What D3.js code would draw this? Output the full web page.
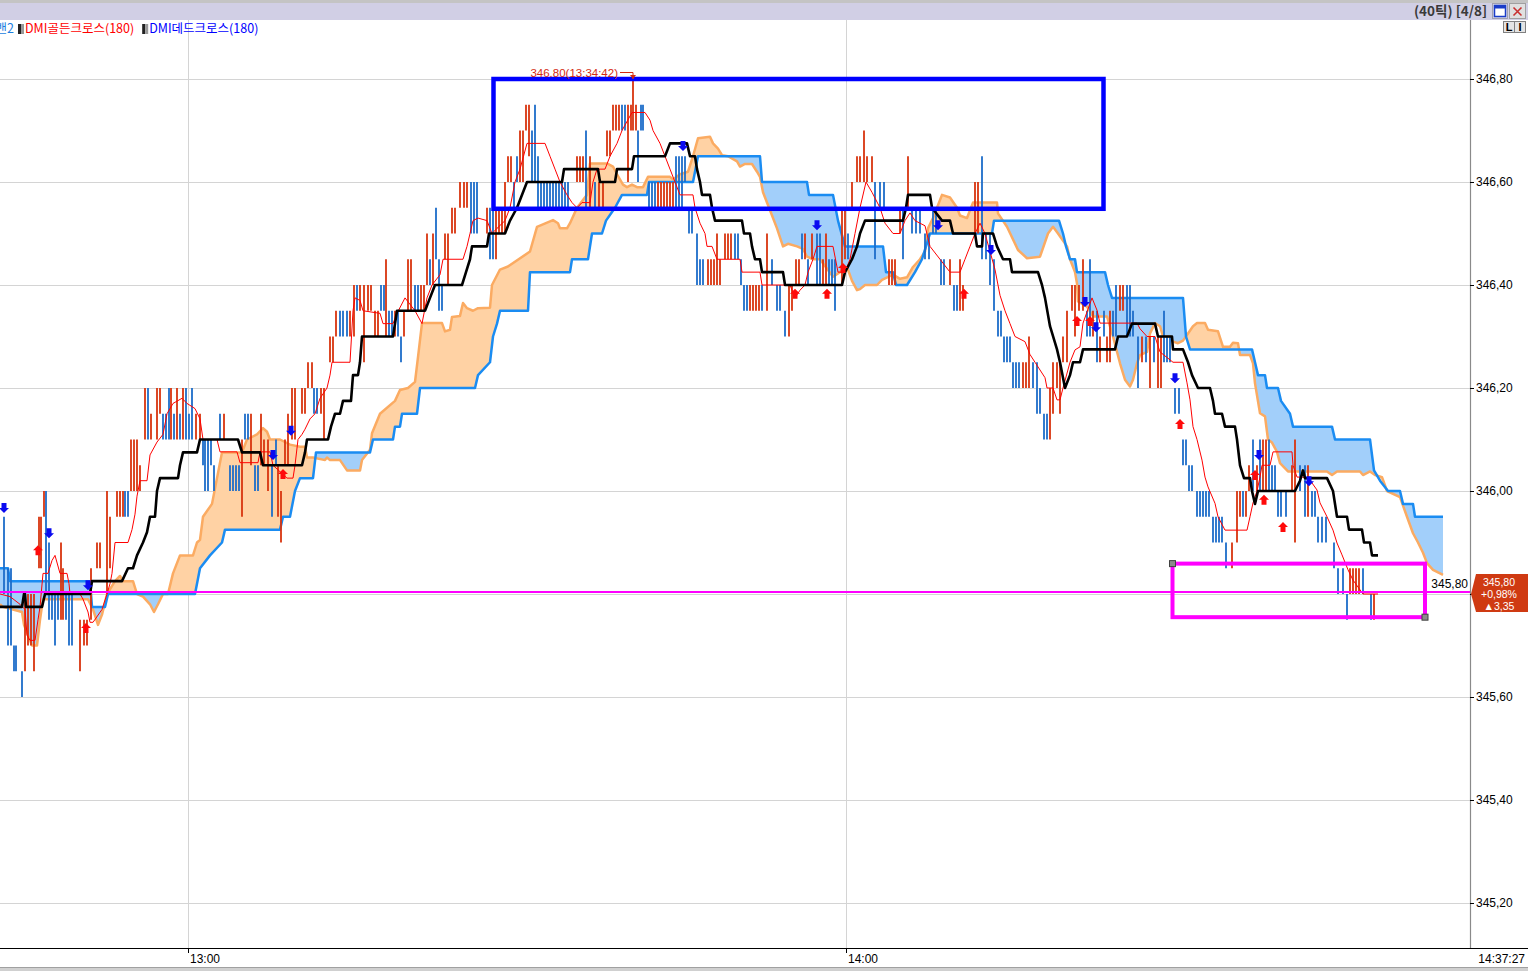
<!DOCTYPE html>
<html><head><meta charset="utf-8">
<script src="https://cdn.jsdelivr.net/npm/d3@7"></script>
<style>
html,body{margin:0;padding:0;background:#fff;overflow:hidden;}
svg{display:block;}
</style></head><body>
<svg id="c" width="1528" height="971"></svg>
<script>
// ===== DATA =====
const priceTicks=[346.80,346.60,346.40,346.20,346.00,345.80,345.60,345.40,345.20];
const timeTickIdx=[37.6,169.2];
const timeTickLabels=["13:00","14:00"];
const lastTimeLabel="14:37:27";
const headerLabel="(40틱) [4/8]";
const legendItems=[["DMI골든크로스(180)","#ff0000"],["DMI데드크로스(180)","#0000ff"]];
const lastPrice=345.80, changePct=0.98, changeAbs=3.35;
const markLine=345.804;
const highNote={i:126.6,p:346.80,label:"346.80(13:34:42)"};
const blueBox={i0:98.7,i1:220.7,p0:346.80,p1:346.548};
const pinkBox={i0:234.5,i1:285.0,p0:345.859,p1:345.755};

// leading span B (blue edge)
const spanB=[[0,345.85],[1.6,345.85],[2,345.825],[18,345.825],[18.4,345.775],[21,345.775],[21.6,345.80],[39,345.80],[40,345.85],[42,345.875],[44.4,345.90],[45,345.925],[56,345.925],[56.6,345.95],[58,345.95],[59,346.0],[60,346.025],[62.6,346.025],[63.2,346.075],[74,346.075],[74.6,346.10],[78.6,346.10],[79,346.125],[80,346.125],[80.4,346.15],[83.4,346.15],[84,346.20],[95,346.20],[95.6,346.225],[98,346.25],[98.6,346.30],[99.4,346.325],[100,346.35],[105.6,346.35],[106,346.425],[114,346.425],[114.4,346.45],[117.6,346.45],[118.4,346.50],[120.4,346.50],[121.2,346.525],[123,346.55],[124.4,346.575],[129.4,346.575],[129.8,346.60],[138.6,346.60],[139.6,346.65],[152,346.65],[152.4,346.60],[161.4,346.60],[161.8,346.575],[166.6,346.575],[167.6,346.525],[169,346.475],[176.6,346.475],[177.2,346.425],[178.6,346.425],[179.2,346.40],[181.4,346.40],[183,346.425],[184.4,346.45],[185.2,346.475],[186,346.50],[198.4,346.50],[198.8,346.525],[211.8,346.525],[212.6,346.50],[213.2,346.475],[214,346.45],[215,346.45],[215.4,346.425],[221,346.425],[221.6,346.40],[222.4,346.375],[236.6,346.375],[237.2,346.30],[238,346.275],[250.4,346.275],[251,346.25],[251.6,346.225],[253,346.225],[253.4,346.20],[255.6,346.20],[256.2,346.175],[258,346.15],[258.6,346.125],[266.4,346.125],[267,346.10],[274,346.10],[274.8,346.04],[276,346.02],[277.6,346.0],[280,346.0],[280.6,345.975],[282.6,345.975],[283,345.95],[288.6,345.95]];

// leading span A (orange edge)
const spanA=[[0,345.78],[0.6,345.775],[4.4,345.765],[4.8,345.74],[6,345.71],[6.4,345.70],[7.4,345.70],[8,345.75],[8.6,345.79],[17.6,345.79],[18.6,345.77],[19.6,345.74],[20.4,345.76],[21.4,345.80],[23,345.825],[24,345.835],[24.6,345.825],[26.6,345.825],[27.4,345.80],[28.6,345.795],[30,345.78],[30.8,345.765],[31.6,345.78],[32.6,345.80],[33.6,345.80],[34.6,345.84],[36,345.875],[38.6,345.875],[39.4,345.90],[40,345.905],[40.6,345.95],[42.4,345.975],[43.4,346.025],[44.4,346.075],[48.4,346.075],[49.4,346.10],[51.4,346.11],[52.6,346.122],[53.4,346.115],[54,346.10],[56,346.10],[58,346.09],[60,346.086],[61,346.086],[61.4,346.065],[62.6,346.065],[65,346.06],[65.4,346.065],[66,346.06],[68,346.06],[69.4,346.04],[72,346.04],[72.4,346.06],[74,346.08],[74.4,346.112],[76,346.15],[79,346.175],[80,346.196],[81.6,346.20],[83,346.212],[83.6,346.26],[84.4,346.326],[88.4,346.326],[89,346.31],[90,346.313],[90.4,346.338],[92,346.34],[92.6,346.365],[93.4,346.355],[94.6,346.35],[95.6,346.355],[98,346.356],[98.4,346.40],[100,346.43],[101.6,346.436],[106,346.465],[107.4,346.513],[110.6,346.526],[111.6,346.52],[112,346.51],[113.4,346.51],[114,346.52],[115.4,346.55],[117.4,346.575],[118,346.636],[121.4,346.636],[122.6,346.63],[123.4,346.615],[124.6,346.595],[125.4,346.59],[126.4,346.595],[127.4,346.59],[128.6,346.59],[129.6,346.61],[134,346.61],[134.6,346.605],[136,346.615],[137.6,346.62],[138.6,346.65],[139.6,346.685],[142,346.688],[142.6,346.675],[143.6,346.665],[144.4,346.652],[145.6,346.65],[147.4,346.64],[148,346.63],[149,346.635],[150.4,346.635],[151.4,346.62],[152,346.61],[152.6,346.58],[154,346.545],[155.4,346.51],[156.6,346.475],[157.6,346.48],[159.4,346.475],[160.6,346.47],[161.4,346.455],[162.6,346.45],[164,346.45],[166.6,346.416],[168,346.425],[169.4,346.435],[170.4,346.408],[171.4,346.39],[172,346.392],[173,346.40],[175.4,346.40],[176.4,346.41],[178.6,346.42],[180,346.412],[181.4,346.415],[182.6,346.435],[184,346.45],[185,346.465],[185.6,346.51],[186.6,346.53],[188.4,346.575],[190,346.57],[191.4,346.55],[192,346.535],[193.4,346.53],[194.6,346.56],[199.4,346.56],[199.6,346.539],[201.4,346.513],[203.6,346.468],[205.4,346.452],[208,346.455],[209.6,346.50],[210.6,346.513],[211.6,346.50],[213.4,346.475],[214,346.45],[215,346.425],[215.4,346.403],[215.6,346.368],[217.4,346.358],[218.6,346.339],[221.4,346.339],[222.6,346.30],[224,346.248],[225,346.216],[226,346.203],[226.6,346.216],[227.4,346.248],[228,346.264],[229.4,346.27],[230,346.306],[231,346.326],[232,346.32],[232.6,346.30],[234,346.30],[234.6,346.29],[235.6,346.287],[236.6,346.292],[237.4,346.303],[238.6,346.32],[239.4,346.326],[241,346.326],[241.6,346.313],[243.6,346.31],[244.6,346.28],[246,346.28],[246.6,346.288],[247.6,346.287],[248,346.264],[250,346.264],[250.6,346.248],[251,346.209],[252,346.151],[253,346.145],[253.6,346.10],[254.4,346.094],[255.4,346.076],[256,346.054],[257.6,346.038],[265.4,346.038],[266.4,346.031],[267.4,346.038],[272,346.038],[272.6,346.031],[274,346.038],[275,346.031],[276.4,346.027],[277.4,346.0],[280,345.988],[281.4,345.95],[282.6,345.918],[283.6,345.90],[284.6,345.88],[285.4,345.86],[286.6,345.847],[288.6,345.837]];

// base line (black)
const baseLine=[[0,345.775],[4.4,345.775],[4.8,345.80],[5,345.80],[5.2,345.775],[8.4,345.775],[9,345.80],[18,345.80],[18.4,345.825],[24.4,345.825],[25.6,345.85],[26.6,345.85],[27.4,345.875],[28.6,345.90],[29.4,345.92],[30,345.95],[31,345.95],[31.4,346.0],[32,346.025],[35.6,346.025],[36,346.05],[36.6,346.075],[39.4,346.075],[40,346.10],[47.6,346.10],[48.4,346.075],[52,346.075],[52.6,346.05],[60.4,346.05],[61,346.075],[61.4,346.10],[65.6,346.10],[66.2,346.125],[67,346.15],[68,346.15],[68.6,346.175],[70.2,346.175],[70.6,346.225],[71.6,346.225],[72,346.25],[72.4,346.30],[78.6,346.30],[79.4,346.35],[85,346.35],[86,346.375],[87,346.40],[92.4,346.40],[93.2,346.425],[94,346.45],[94.4,346.475],[97.4,346.475],[97.8,346.50],[101,346.50],[102,346.525],[103.4,346.55],[105.4,346.60],[112.4,346.60],[112.8,346.625],[119.6,346.625],[120,346.60],[123,346.60],[123.4,346.625],[126.4,346.625],[126.8,346.65],[133,346.65],[134,346.675],[137.4,346.675],[138,346.65],[139,346.65],[139.4,346.625],[140,346.60],[140.4,346.575],[142,346.575],[142.4,346.55],[143,346.525],[148.4,346.525],[148.8,346.50],[150,346.50],[150.4,346.475],[151,346.45],[152,346.45],[152.4,346.425],[156.6,346.425],[157,346.40],[168.4,346.40],[169,346.425],[170.4,346.45],[171.4,346.475],[172,346.50],[173,346.525],[180.6,346.525],[181.2,346.55],[181.6,346.575],[186,346.575],[186.4,346.55],[188.4,346.525],[190,346.525],[190.6,346.50],[195,346.50],[195.4,346.475],[196.4,346.475],[196.6,346.50],[198.6,346.50],[199.4,346.475],[200.6,346.45],[202,346.45],[202.4,346.425],[207.6,346.425],[208.4,346.40],[209,346.375],[210,346.32],[211.4,346.275],[212,346.25],[213,346.20],[214,346.225],[214.6,346.25],[216,346.25],[216.6,346.275],[223,346.275],[223.6,346.30],[225.4,346.30],[226.4,346.325],[231,346.325],[231.6,346.30],[234.4,346.30],[234.6,346.275],[236.6,346.275],[237.6,346.25],[238.4,346.225],[239.6,346.20],[242,346.20],[242.6,346.175],[243,346.15],[244.4,346.15],[245,346.125],[247,346.125],[247.4,346.10],[248,346.05],[248.8,346.025],[250,346.025],[250.4,346.0],[251,345.975],[251.6,346.0],[252.4,346.0],[259,346.0],[260,346.02],[260.6,346.04],[261,346.025],[265.4,346.025],[266.6,346.0],[267.4,345.95],[269.4,345.95],[269.8,345.925],[272.4,345.925],[272.8,345.90],[274,345.90],[274.4,345.875],[275.6,345.875]];

// conversion line (thin red)
const convLine=[[0,345.80],[2,345.795],[4,345.78],[5,345.77],[5.4,345.72],[6,345.71],[7,345.71],[7.6,345.75],[8,345.775],[8.6,345.84],[9.6,345.84],[10.4,345.865],[11,345.875],[12,345.84],[13.4,345.84],[13.8,345.82],[14,345.80],[16,345.80],[16.6,345.79],[17.6,345.765],[18,345.745],[18.6,345.745],[20.4,345.77],[21.4,345.80],[22,345.82],[22.4,345.84],[23,345.90],[25.6,345.90],[26.4,345.925],[27,345.955],[27.4,345.99],[28,346.02],[29.4,346.02],[30,346.07],[31.4,346.095],[32.6,346.11],[33.4,346.15],[34.6,346.17],[36.4,346.18],[37.4,346.17],[39,346.16],[40,346.14],[40.6,346.10],[43.4,346.10],[44,346.076],[47.4,346.076],[48,346.055],[51.6,346.055],[52,346.076],[54,346.076],[54.6,346.05],[57.4,346.025],[58.6,346.025],[59,346.05],[59.6,346.10],[60.4,346.11],[61,346.12],[62,346.14],[63,346.15],[64,346.18],[65.4,346.20],[66,346.225],[66.4,346.25],[70,346.25],[70.6,346.35],[71,346.375],[72,346.37],[72.6,346.35],[76,346.345],[76.6,346.325],[78.6,346.325],[79.4,346.345],[81,346.375],[83,346.35],[84.4,346.325],[85.4,346.375],[86.4,346.40],[88,346.42],[88.6,346.45],[92.6,346.45],[93.4,346.475],[94,346.50],[94.6,346.525],[95.6,346.53],[97.4,346.525],[98.4,346.50],[99.4,346.51],[101,346.525],[102,346.55],[103,346.60],[104,346.625],[105.4,346.675],[109,346.675],[110,346.65],[111,346.625],[112,346.60],[113.4,346.575],[114.4,346.56],[115.4,346.55],[116.4,346.56],[118,346.56],[118.6,346.60],[119.4,346.625],[121,346.625],[122,346.65],[123.4,346.675],[124.4,346.70],[126.4,346.735],[129,346.735],[130,346.72],[130.6,346.70],[132,346.675],[133,346.65],[134,346.625],[135,346.60],[136,346.575],[138.6,346.575],[139,346.55],[140,346.52],[141,346.50],[141.4,346.475],[142.4,346.475],[143.4,346.45],[148,346.45],[148.4,346.425],[152,346.425],[152.4,346.40],[158,346.40],[159,346.375],[160,346.39],[161,346.40],[161.6,346.425],[162.6,346.45],[163.4,346.475],[166.6,346.475],[167.6,346.425],[169,346.425],[170,346.45],[171,346.50],[172,346.55],[173.2,346.60],[174.4,346.58],[176,346.55],[177,346.52],[178.6,346.50],[180,346.50],[181,346.525],[182,346.54],[183,346.525],[185,346.515],[186,346.475],[188,346.45],[190,346.425],[192,346.425],[193,346.45],[194,346.475],[195,346.50],[196,346.52],[197,346.50],[198,346.465],[199,346.43],[200,346.38],[201,346.35],[202,346.325],[203,346.30],[205,346.29],[206,346.265],[207,346.25],[208,346.235],[209,346.22],[209.4,346.20],[210.6,346.20],[211.4,346.177],[212,346.177],[212.6,346.20],[214,346.25],[215,346.274],[216,346.28],[216.6,346.326],[218.4,346.375],[219.4,346.351],[220,346.326],[227.4,346.326],[228,346.315],[229.4,346.30],[231,346.30],[232,346.27],[234.6,346.25],[236.6,346.25],[237.4,346.21],[238,346.177],[238.6,346.125],[239.4,346.10],[240.4,346.06],[241,346.027],[241.6,346.008],[243,345.976],[243.6,345.95],[245,345.924],[249.4,345.924],[250,345.95],[250.6,345.977],[251.4,346.0],[252,346.027],[252.4,346.05],[254,346.05],[254.6,346.076],[258.4,346.076],[258.6,346.05],[259.4,346.027],[260.6,346.027],[262,346.021],[263.4,346.002],[264,345.977],[265.4,345.95],[266.6,345.924],[267.4,345.899],[268.4,345.876],[269.6,345.847],[270.6,345.827],[272.6,345.80],[275.6,345.80]];

// tick bars: [position, low, high, up(1)/down(0)]
const bars=[[0.8,345.80,345.95,0],[1.6,345.70,345.85,0],[2.2,345.70,345.85,0],[2.8,345.65,345.70,0],[3.2,345.65,345.70,0],[4.4,345.60,345.65,0],[5.0,345.65,345.80,1],[5.6,345.70,345.80,1],[6.2,345.70,345.80,1],[6.8,345.65,345.80,1],[7.8,345.85,345.95,1],[8.2,345.85,345.95,1],[8.8,345.95,346.00,1],[9.2,345.80,346.00,0],[9.8,345.75,345.90,0],[10.4,345.75,345.80,0],[11.0,345.70,345.80,0],[11.6,345.75,345.80,0],[12.2,345.75,345.90,1],[12.6,345.75,345.85,1],[13.2,345.75,345.80,0],[13.8,345.70,345.80,0],[14.4,345.70,345.80,0],[16.0,345.65,345.75,1],[16.8,345.70,345.75,1],[17.4,345.70,345.75,1],[18.2,345.75,345.85,1],[19.4,345.85,345.90,1],[20.0,345.85,345.90,1],[21.4,345.80,346.00,1],[22.0,345.85,345.95,1],[23.4,345.95,346.00,1],[24.0,345.95,346.00,1],[24.6,345.95,346.00,1],[25.0,345.95,346.00,0],[25.6,345.95,346.00,0],[26.2,346.00,346.10,1],[26.8,346.00,346.10,1],[27.4,346.00,346.10,1],[28.0,346.00,346.05,1],[29.0,346.10,346.20,1],[29.6,346.10,346.20,0],[30.2,346.10,346.15,1],[31.4,346.10,346.20,1],[32.0,346.15,346.20,1],[32.6,346.10,346.15,0],[33.2,346.10,346.15,0],[33.8,346.10,346.20,0],[34.2,346.10,346.20,1],[34.8,346.10,346.15,0],[35.4,346.10,346.20,1],[36.0,346.10,346.15,0],[36.6,346.10,346.20,1],[37.2,346.10,346.20,0],[37.8,346.10,346.15,0],[38.4,346.10,346.20,0],[39.2,346.10,346.15,1],[40.0,346.10,346.15,1],[40.6,346.05,346.10,0],[41.0,346.00,346.10,0],[41.6,346.00,346.10,0],[42.2,346.05,346.10,0],[42.8,346.00,346.05,0],[44.0,346.10,346.15,0],[44.8,346.10,346.15,1],[46.0,346.00,346.05,0],[46.6,346.00,346.05,0],[47.2,346.00,346.05,0],[47.8,346.00,346.05,0],[48.4,345.95,346.10,1],[49.0,346.10,346.15,0],[49.6,346.10,346.15,0],[50.2,346.05,346.15,1],[51.0,346.00,346.05,0],[51.6,346.00,346.05,0],[52.2,346.05,346.15,1],[52.8,346.05,346.10,1],[53.6,346.00,346.10,1],[54.4,345.95,346.05,0],[55.2,346.05,346.10,0],[55.6,345.95,346.05,1],[56.2,345.90,346.00,1],[57.0,346.05,346.10,1],[57.6,346.05,346.15,1],[58.4,346.10,346.20,1],[59.0,346.10,346.20,1],[60.4,346.15,346.20,1],[61.0,346.15,346.20,1],[61.6,346.20,346.25,1],[62.4,346.20,346.25,1],[62.8,346.15,346.20,0],[63.4,346.15,346.20,0],[64.2,346.15,346.20,1],[64.8,346.10,346.20,1],[66.0,346.25,346.30,1],[66.6,346.25,346.30,1],[67.2,346.30,346.35,1],[68.0,346.30,346.35,0],[68.6,346.30,346.35,0],[69.4,346.30,346.35,0],[70.0,346.30,346.35,1],[70.8,346.30,346.40,1],[71.4,346.35,346.40,0],[72.0,346.35,346.40,1],[72.8,346.25,346.40,1],[73.6,346.35,346.40,1],[74.2,346.35,346.40,1],[75.0,346.30,346.35,1],[75.6,346.30,346.35,1],[76.2,346.35,346.40,0],[76.8,346.35,346.40,0],[77.2,346.30,346.45,1],[77.8,346.30,346.35,0],[78.4,346.30,346.35,0],[79.0,346.30,346.35,1],[79.6,346.30,346.35,0],[80.2,346.25,346.30,0],[80.8,346.30,346.35,1],[81.6,346.35,346.45,1],[82.2,346.35,346.45,1],[83.0,346.35,346.40,0],[83.6,346.35,346.40,0],[84.2,346.35,346.40,1],[84.8,346.35,346.40,1],[85.4,346.40,346.50,1],[86.0,346.40,346.45,0],[86.6,346.40,346.50,1],[87.2,346.45,346.55,0],[87.8,346.35,346.45,0],[88.4,346.35,346.40,0],[89.0,346.45,346.50,1],[89.6,346.40,346.50,1],[90.4,346.50,346.55,1],[91.0,346.50,346.55,1],[92.0,346.55,346.60,1],[92.8,346.55,346.60,1],[93.4,346.55,346.60,1],[94.2,346.50,346.60,0],[94.8,346.50,346.60,0],[95.4,346.50,346.60,0],[97.4,346.50,346.55,1],[98.0,346.45,346.55,0],[98.6,346.45,346.55,0],[99.2,346.45,346.55,1],[99.8,346.50,346.55,1],[100.4,346.50,346.55,1],[101.0,346.50,346.60,1],[101.6,346.60,346.65,1],[102.2,346.60,346.65,1],[102.8,346.55,346.60,0],[103.4,346.60,346.65,0],[104.0,346.60,346.70,1],[104.6,346.60,346.70,1],[105.2,346.70,346.75,1],[105.8,346.65,346.75,1],[106.4,346.60,346.70,0],[107.0,346.60,346.75,0],[107.6,346.55,346.65,0],[108.2,346.55,346.60,0],[108.8,346.55,346.60,0],[109.4,346.55,346.60,0],[110.0,346.55,346.60,0],[110.6,346.55,346.60,0],[111.2,346.55,346.60,0],[111.8,346.55,346.60,0],[112.4,346.55,346.60,0],[113.0,346.55,346.60,0],[113.6,346.55,346.60,0],[115.4,346.60,346.65,1],[116.0,346.60,346.65,1],[116.6,346.60,346.65,1],[117.2,346.55,346.70,0],[118.0,346.55,346.65,1],[119.0,346.55,346.60,0],[119.8,346.55,346.60,1],[120.6,346.55,346.60,1],[121.4,346.65,346.70,1],[122.0,346.65,346.70,1],[122.6,346.70,346.75,1],[123.2,346.70,346.75,1],[123.8,346.70,346.75,1],[124.4,346.70,346.75,0],[125.0,346.70,346.75,0],[125.6,346.60,346.75,1],[126.2,346.70,346.75,1],[126.6,346.70,346.80,1],[127.2,346.70,346.75,1],[127.6,346.60,346.70,0],[128.2,346.70,346.75,0],[128.6,346.70,346.75,0],[129.8,346.55,346.60,0],[130.4,346.55,346.60,0],[131.0,346.55,346.60,0],[131.6,346.55,346.60,1],[132.2,346.55,346.60,1],[132.8,346.55,346.60,1],[133.4,346.55,346.60,1],[134.0,346.55,346.60,1],[134.6,346.55,346.60,1],[135.2,346.55,346.65,0],[135.8,346.55,346.65,0],[136.4,346.55,346.65,0],[137.0,346.60,346.65,0],[137.8,346.50,346.55,0],[138.4,346.50,346.55,0],[139.4,346.40,346.50,0],[140.0,346.40,346.45,0],[140.6,346.40,346.45,0],[141.6,346.40,346.45,1],[142.2,346.40,346.45,1],[142.8,346.40,346.45,1],[143.4,346.40,346.50,1],[144.0,346.40,346.45,1],[145.0,346.45,346.50,1],[145.6,346.45,346.50,1],[146.2,346.45,346.50,1],[147.0,346.45,346.50,0],[147.6,346.45,346.50,0],[148.2,346.40,346.45,0],[148.8,346.35,346.40,0],[149.4,346.35,346.40,0],[150.0,346.35,346.40,1],[150.6,346.35,346.40,1],[151.2,346.35,346.40,1],[151.8,346.35,346.40,1],[152.4,346.35,346.40,0],[153.4,346.35,346.50,1],[154.4,346.40,346.45,0],[155.4,346.35,346.40,0],[156.0,346.35,346.40,0],[157.0,346.30,346.35,0],[157.8,346.30,346.40,1],[158.4,346.35,346.40,1],[159.2,346.40,346.45,1],[159.8,346.40,346.45,1],[160.4,346.45,346.50,0],[161.0,346.45,346.50,1],[161.6,346.40,346.45,0],[162.4,346.45,346.50,1],[163.4,346.40,346.50,0],[164.0,346.40,346.50,0],[164.6,346.40,346.45,1],[165.2,346.40,346.50,1],[165.8,346.40,346.45,0],[166.4,346.40,346.45,0],[167.0,346.35,346.45,0],[168.4,346.40,346.55,1],[169.0,346.45,346.55,1],[169.6,346.45,346.50,0],[170.4,346.55,346.60,1],[171.4,346.60,346.65,1],[172.0,346.60,346.65,1],[172.8,346.60,346.70,1],[173.4,346.60,346.65,1],[174.4,346.60,346.65,1],[175.0,346.45,346.60,0],[176.0,346.55,346.60,0],[176.8,346.55,346.60,0],[177.8,346.40,346.45,1],[178.4,346.40,346.45,1],[179.0,346.40,346.45,1],[180.0,346.50,346.55,1],[180.6,346.45,346.55,0],[181.6,346.55,346.65,1],[182.4,346.50,346.55,0],[183.2,346.50,346.55,0],[184.0,346.50,346.55,0],[185.0,346.45,346.50,0],[185.8,346.45,346.50,0],[186.6,346.50,346.55,0],[187.2,346.50,346.55,0],[188.2,346.40,346.45,0],[188.8,346.40,346.45,0],[190.0,346.40,346.45,1],[190.8,346.35,346.40,0],[191.4,346.35,346.40,0],[192.0,346.35,346.45,1],[192.6,346.35,346.40,1],[195.0,346.50,346.60,1],[195.6,346.50,346.60,1],[196.4,346.45,346.65,0],[197.2,346.45,346.50,0],[198.0,346.40,346.50,0],[198.8,346.35,346.45,0],[199.6,346.30,346.35,0],[200.2,346.30,346.35,0],[200.8,346.25,346.30,0],[201.4,346.25,346.30,0],[202.0,346.25,346.30,0],[202.6,346.20,346.25,0],[203.2,346.20,346.25,0],[203.8,346.20,346.25,0],[204.6,346.20,346.25,1],[205.2,346.20,346.25,1],[205.8,346.20,346.30,1],[206.6,346.20,346.25,0],[207.4,346.15,346.25,0],[208.0,346.15,346.20,0],[208.8,346.10,346.15,0],[209.4,346.10,346.15,0],[210.0,346.10,346.20,1],[210.6,346.15,346.25,1],[211.4,346.20,346.25,1],[212.0,346.15,346.25,1],[212.6,346.25,346.30,1],[213.4,346.25,346.35,1],[214.4,346.35,346.40,1],[215.0,346.30,346.40,1],[215.8,346.35,346.40,1],[216.6,346.35,346.45,1],[217.4,346.30,346.35,0],[218.0,346.30,346.45,0],[218.6,346.30,346.35,1],[219.4,346.25,346.35,0],[220.0,346.25,346.30,1],[220.8,346.30,346.35,0],[221.4,346.25,346.30,1],[222.0,346.25,346.35,1],[222.6,346.30,346.35,0],[223.2,346.30,346.40,0],[224.0,346.35,346.40,1],[224.6,346.35,346.40,1],[225.4,346.30,346.40,0],[226.0,346.30,346.40,0],[226.6,346.30,346.35,0],[227.6,346.20,346.30,0],[228.4,346.25,346.30,1],[229.2,346.25,346.30,0],[230.0,346.20,346.30,1],[230.8,346.25,346.30,0],[231.6,346.20,346.30,1],[232.2,346.20,346.30,1],[232.8,346.25,346.35,0],[233.4,346.25,346.30,0],[234.0,346.25,346.30,0],[235.0,346.15,346.20,0],[235.8,346.15,346.20,0],[236.6,346.05,346.10,0],[237.2,346.05,346.10,0],[237.8,346.00,346.05,0],[238.4,346.00,346.05,0],[239.4,345.95,346.00,0],[240.0,345.95,346.00,0],[240.6,345.95,346.00,0],[241.2,345.95,346.00,0],[241.8,345.95,346.00,0],[242.6,345.90,345.95,0],[243.2,345.90,345.95,0],[243.8,345.90,345.95,0],[244.4,345.90,345.95,0],[245.2,345.85,345.90,0],[246.4,345.85,345.90,1],[247.4,345.90,346.00,1],[248.0,345.95,346.00,1],[248.6,345.95,346.00,0],[249.2,345.95,346.00,1],[249.8,346.00,346.05,1],[250.6,346.00,346.10,0],[251.4,346.00,346.05,1],[252.0,346.00,346.10,0],[252.6,346.00,346.10,1],[253.2,346.00,346.10,1],[253.8,346.00,346.10,0],[254.4,346.00,346.05,0],[255.0,346.00,346.05,0],[255.6,345.95,346.00,0],[256.2,345.95,346.00,0],[257.2,345.95,346.00,0],[258.4,346.00,346.05,1],[259.0,345.90,346.10,1],[260.0,346.00,346.05,0],[261.0,345.95,346.05,0],[261.6,345.95,346.05,1],[262.4,345.95,346.00,0],[263.0,345.95,346.00,0],[263.6,345.90,345.95,0],[264.4,345.90,345.95,0],[265.2,345.90,345.95,0],[266.8,345.85,345.90,0],[267.6,345.80,345.85,0],[268.6,345.80,345.85,0],[269.4,345.75,345.80,0],[270.0,345.80,345.85,1],[270.6,345.80,345.85,1],[271.2,345.80,345.85,1],[271.8,345.80,345.85,1],[272.6,345.80,345.85,0],[274.2,345.75,345.80,0],[274.8,345.75,345.80,1]];

// DMI signals
const deadCross=[[0.8,345.967],[9.8,345.918],[17.6,345.817],[54.6,346.07],[58.2,346.117],[136.6,346.67],[163.4,346.516],[187.6,346.516],[198.2,346.468],[217,346.367],[219.2,346.318],[235,346.219],[251.8,346.07],[261.8,346.019]];
const goldenCross=[[7.6,345.885],[17.2,345.734],[56.6,346.033],[159,346.383],[165.4,346.383],[168.6,346.433],[192.8,346.383],[215.4,346.33],[218,346.33],[236,346.13],[251,346.031],[252.8,345.983],[256.6,345.93]];

// ===== DRAW =====
const W=1528,H=971;
const PL=0,PR=1470,PT=20,PB=948;
const x=d3.scaleLinear().domain([0,294]).range([PL,PR]);
const y=d3.scaleLinear().domain([345.20,346.80]).range([903,79]);
const svg=d3.select("#c");
const FONT="'Liberation Sans',Arial,sans-serif";
const KFONT="'Noto Sans CJK KR','Noto Sans',sans-serif";
const fmt=v=>d3.format(".2f")(v).replace(".",",");

svg.append("rect").attr("width",W).attr("height",H).attr("fill","#fff");
// title bar
svg.append("rect").attr("x",0).attr("y",0).attr("width",W).attr("height",3).attr("fill","#c4c4c4");
svg.append("rect").attr("x",0).attr("y",3).attr("width",W).attr("height",17).attr("fill","#d1cfe5");
svg.append("text").attr("x",1487).attr("y",16).attr("text-anchor","end").attr("font-family",KFONT).attr("font-weight","bold").attr("font-size",13.5).attr("fill","#3a3a3a").text(headerLabel);
// buttons
const b1=svg.append("g");
b1.append("rect").attr("x",1492.5).attr("y",3.5).attr("width",15).attr("height",15).attr("fill","#d8d8e8").attr("stroke","#a0a0b0");
b1.append("rect").attr("x",1494.5).attr("y",5.5).attr("width",11).attr("height",11).attr("fill","#fff").attr("stroke","#1a3cc8").attr("stroke-width",1.5);
b1.append("rect").attr("x",1494.5).attr("y",5.5).attr("width",11).attr("height",3).attr("fill","#1a3cc8");
const b2=svg.append("g");
b2.append("rect").attr("x",1509.5).attr("y",3.5).attr("width",16).attr("height",15).attr("fill","#e0e0e0").attr("stroke","#a0a0a0");
b2.append("path").attr("d","M1513.5,7.5L1521.5,15.5M1521.5,7.5L1513.5,15.5").attr("stroke","#c83030").attr("stroke-width",1.6);
[["L",1503],["I",1514]].forEach(([t,bx])=>{
  svg.append("rect").attr("x",bx+0.5).attr("y",21.5).attr("width",11).attr("height",11).attr("fill","#e4e4e4").attr("stroke","#808080");
  svg.append("text").attr("x",bx+6).attr("y",31).attr("text-anchor","middle").attr("font-family",FONT).attr("font-weight","bold").attr("font-size",11).attr("fill","#000").text(t);
});

// grid
const grid=svg.append("g");
grid.selectAll("line.h").data(priceTicks).join("line").attr("x1",PL).attr("x2",PR)
  .attr("y1",d=>Math.round(y(d))+0.5).attr("y2",d=>Math.round(y(d))+0.5).attr("stroke","#d4d4d4");
grid.selectAll("line.v").data(timeTickIdx).join("line").attr("y1",PT).attr("y2",PB)
  .attr("x1",d=>Math.round(x(d))+0.5).attr("x2",d=>Math.round(x(d))+0.5).attr("stroke","#d4d4d4");

const defs=svg.append("defs");
defs.append("clipPath").attr("id","plotClip").append("rect").attr("x",PL).attr("y",PT).attr("width",PR-PL).attr("height",PB-PT);
const areaTop=d3.area().x(d=>x(d[0])).y0(PT).y1(d=>y(d[1]));
const areaBot=d3.area().x(d=>x(d[0])).y0(d=>y(d[1])).y1(PB);
defs.append("clipPath").attr("id","aboveB").append("path").attr("d",areaTop(spanB));
defs.append("clipPath").attr("id","aboveA").append("path").attr("d",areaTop(spanA));

const g=svg.append("g").attr("clip-path","url(#plotClip)");
const line=d3.line().x(d=>x(d[0])).y(d=>y(d[1]));
// cloud fills
g.append("g").attr("clip-path","url(#aboveB)").append("path").attr("d",areaBot(spanA)).attr("fill","#ffd2a4");
g.append("g").attr("clip-path","url(#aboveA)").append("path").attr("d",areaBot(spanB)).attr("fill","#a2cffa");
g.append("path").attr("d",line(spanA)).attr("fill","none").attr("stroke","#fbab62").attr("stroke-width",2.5).attr("stroke-linejoin","round");
g.append("path").attr("d",line(spanB)).attr("fill","none").attr("stroke","#1a8cf2").attr("stroke-width",2.5).attr("stroke-linejoin","round");

// bars
g.append("g").selectAll("line").data(bars).join("line")
  .attr("x1",d=>x(d[0])).attr("x2",d=>x(d[0]))
  .attr("y1",d=>y(d[1])).attr("y2",d=>y(d[2]))
  .attr("stroke",d=>d[3]?"#d8340e":"#1c6cc9").attr("stroke-width",1.8);

// conversion & base lines
g.append("path").attr("d",line(convLine)).attr("fill","none").attr("stroke","#ff0000").attr("stroke-width",1);
g.append("path").attr("d",line(baseLine)).attr("fill","none").attr("stroke","#000").attr("stroke-width",2.6).attr("stroke-linejoin","round");

// mark line
g.append("line").attr("x1",PL).attr("x2",PR).attr("y1",y(markLine)).attr("y2",y(markLine)).attr("stroke","#ff00ff").attr("stroke-width",2);

// arrows
const arrows=g.append("g");
arrows.selectAll("path.dn").data(deadCross).join("path").attr("fill","#0a0af0")
  .attr("d",d=>{const cx=x(d[0]),cy=y(d[1]);return `M${cx-2.5},${cy-5}H${cx+2.5}V${cy}H${cx+5}L${cx},${cy+5}L${cx-5},${cy}H${cx-2.5}Z`;});
arrows.selectAll("path.up").data(goldenCross).join("path").attr("fill","#ff0a0a")
  .attr("d",d=>{const cx=x(d[0]),cy=y(d[1]);return `M${cx},${cy-5}L${cx+5},${cy}H${cx+2.5}V${cy+5}H${cx-2.5}V${cy}H${cx-5}Z`;});

// boxes
g.append("rect").attr("x",x(blueBox.i0)).attr("y",y(blueBox.p0)).attr("width",x(blueBox.i1)-x(blueBox.i0)).attr("height",y(blueBox.p1)-y(blueBox.p0))
  .attr("fill","none").attr("stroke","#0000ff").attr("stroke-width",4.5);
g.append("rect").attr("x",x(pinkBox.i0)).attr("y",y(pinkBox.p0)).attr("width",x(pinkBox.i1)-x(pinkBox.i0)).attr("height",y(pinkBox.p1)-y(pinkBox.p0))
  .attr("fill","none").attr("stroke","#ff00ff").attr("stroke-width",4);
[[pinkBox.i0,pinkBox.p0],[pinkBox.i1,pinkBox.p1]].forEach(([i,p])=>{
  g.append("rect").attr("x",x(i)-3).attr("y",y(p)-3).attr("width",6).attr("height",6).attr("fill","#8a8a8a").attr("stroke","#404040").attr("stroke-width",1);
});

// high annotation
{
  const hx=x(highNote.i), hy=y(highNote.p);
  svg.append("text").attr("x",hx-15).attr("y",hy-2).attr("text-anchor","end").attr("font-family",FONT).attr("font-size",11.5).attr("fill","#d42a10").text(highNote.label);
  svg.append("path").attr("d",`M${hx-13},${hy-6.5}H${hx}V${hy}`).attr("fill","none").attr("stroke","#d42a10").attr("stroke-width",1);
  svg.append("path").attr("d",`M${hx-3},${hy-4}L${hx+3},${hy-4}L${hx},${hy}Z`).attr("fill","#d42a10");
}

// legend (first item clipped at the left edge, as in the source)
svg.append("text").attr("x",14).attr("y",33).attr("text-anchor","end").attr("font-family",KFONT).attr("font-size",12.5).attr("fill","#1c7ee0").text("밴2");
{
  let lx=18;
  legendItems.forEach(([t,c])=>{
    svg.append("rect").attr("x",lx).attr("y",24).attr("width",3).attr("height",10).attr("fill","#222");
    svg.append("rect").attr("x",lx+3).attr("y",24).attr("width",3).attr("height",10).attr("fill","#999");
    const tx=svg.append("text").attr("x",lx+7).attr("y",33).attr("font-family",KFONT).attr("font-size",12.5).attr("fill",c).text(t);
    lx+=7+tx.node().getComputedTextLength()+8;
  });
}

// right axis (the label under the last-price tag is hidden by the tag)
svg.append("line").attr("x1",PR+0.5).attr("x2",PR+0.5).attr("y1",PT).attr("y2",PB).attr("stroke","#8a8a8a").attr("stroke-width",1.2);
const ax=svg.append("g");
ax.selectAll("line").data(priceTicks).join("line").attr("x1",PR).attr("x2",PR+4).attr("y1",d=>Math.round(y(d))+0.5).attr("y2",d=>Math.round(y(d))+0.5).attr("stroke","#000");
ax.selectAll("text").data(priceTicks.filter(d=>Math.abs(d-lastPrice)>0.05)).join("text").attr("x",PR+6).attr("y",d=>y(d)+4).attr("font-family",FONT).attr("font-size",12).attr("fill","#000").text(d=>fmt(d));

// mark line label
svg.append("text").attr("x",PR-2).attr("y",y(markLine)-4).attr("text-anchor","end").attr("font-family",FONT).attr("font-size",12).attr("fill","#000").text(fmt(lastPrice));

// price tag
{
  const ty=y(lastPrice);
  svg.append("path").attr("d",`M${PR+1},${ty}L${PR+6},${ty-20}H${W}V${ty+18}H${PR+6}Z`).attr("fill","#cf3a12");
  const lines=[fmt(lastPrice),"+"+fmt(changePct)+"%","▲"+fmt(changeAbs)];
  lines.forEach((t,k)=>{
    svg.append("text").attr("x",1499).attr("y",ty-8.5+k*12).attr("text-anchor","middle").attr("font-family",FONT).attr("font-size",10.5).attr("fill","#fff").text(t);
  });
}

// bottom axis
svg.append("line").attr("x1",0).attr("x2",W).attr("y1",PB+0.5).attr("y2",PB+0.5).attr("stroke","#000");
timeTickIdx.forEach((t,k)=>{
  const tx=Math.round(x(t))+0.5;
  svg.append("line").attr("x1",tx).attr("x2",tx).attr("y1",PB).attr("y2",PB+5).attr("stroke","#000");
  svg.append("text").attr("x",tx+1.5).attr("y",PB+15).attr("font-family",FONT).attr("font-size",12).attr("fill","#000").text(timeTickLabels[k]);
});
svg.append("text").attr("x",1525).attr("y",PB+15).attr("text-anchor","end").attr("font-family",FONT).attr("font-size",12).attr("fill","#000").text(lastTimeLabel);
svg.append("rect").attr("x",0).attr("y",967).attr("width",W).attr("height",4).attr("fill","#d0d0d0");
svg.append("line").attr("x1",0).attr("x2",W).attr("y1",967.5).attr("y2",967.5).attr("stroke","#a0a0a0");
</script>
</body></html>
